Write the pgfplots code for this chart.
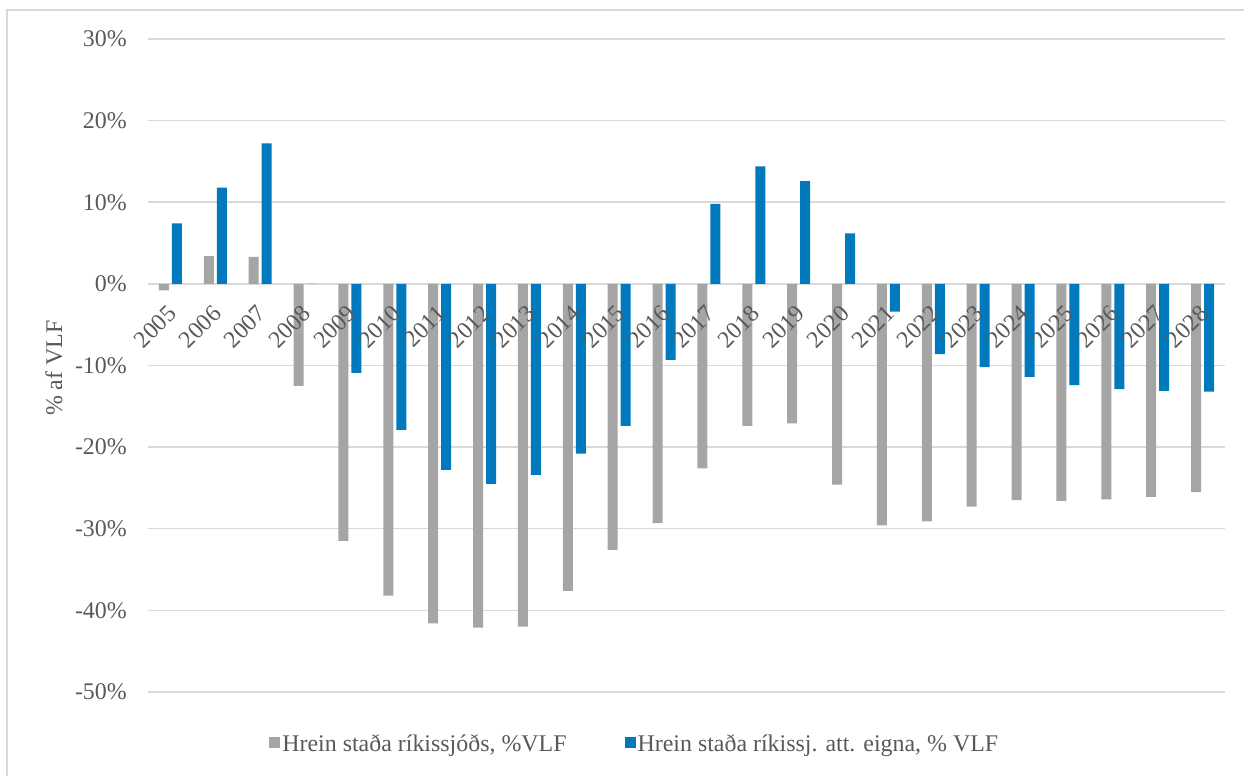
\documentclass[border=0pt]{standalone}
\usepackage{fontspec}
\setmainfont{Liberation Serif}
\usepackage{pgfplots}
\pgfplotsset{compat=1.18}
\definecolor{grayb}{RGB}{165,165,165}
\definecolor{blueb}{RGB}{0,122,188}
\definecolor{txt}{RGB}{89,89,89}
\definecolor{gridc}{RGB}{217,217,217}
\pgfplotsset{
  common/.style={
    at={(148bp,84bp)}, anchor=south west,
    scale only axis, width=1077bp, height=653bp,
    xmin=-0.5, xmax=23.5, ymin=-50, ymax=30,
    major tick length=0,
    axis line style={draw=none},
    tick label style={font=\fontsize{24}{28}\selectfont, text=txt},
  }
}
\begin{document}
\begin{tikzpicture}
\useasboundingbox (0,0) rectangle (1244bp,776bp);
\draw[gridc, line width=1.5bp] (7bp,-2bp) -- (7bp,766bp) -- (1250bp,766bp);
\begin{axis}[
  common,
  ybar=3bp, bar width=10bp,
  ytick={-50,-40,-30,-20,-10,0,10,20,30},
  yticklabels={-50\%,-40\%,-30\%,-20\%,-10\%,0\%,10\%,20\%,30\%},
  xtick={0,1,...,23},
  xticklabels={},
  ymajorgrids, grid style={gridc, line width=1.5bp},
  yticklabel style={anchor=east, inner sep=0pt, xshift=-21bp},
  ylabel={\% af VLF},
  ylabel style={at={(axis description cs:-0.0873,0.496)}, anchor=center, font=\fontsize{24}{28}\selectfont, text=txt},
  legend columns=2,
  legend style={at={(axis description cs:0.452,-0.0796)}, anchor=center, draw=none, fill=none,
    font=\fontsize{24}{28}\selectfont, text=txt,
    /tikz/every even column/.append style={column sep=56bp}},
  legend image code/.code={\fill[#1] (0bp,-4bp) rectangle (11bp,7bp);},
]
\addplot[fill=grayb, draw=none] coordinates {
(0,-0.8) (1,3.4) (2,3.3) (3,-12.5) (4,-31.5) (5,-38.2) (6,-41.6) (7,-42.1)
(8,-42.0) (9,-37.6) (10,-32.6) (11,-29.3) (12,-22.6) (13,-17.4) (14,-17.1) (15,-24.6)
(16,-29.6) (17,-29.1) (18,-27.3) (19,-26.5) (20,-26.6) (21,-26.4) (22,-26.1) (23,-25.5)};
\addlegendentry{Hrein staða ríkissjóðs, \%VLF}
\addplot[fill=blueb, draw=none] coordinates {
(0,7.4) (1,11.8) (2,17.2) (3,0) (4,-10.9) (5,-17.9) (6,-22.8) (7,-24.5)
(8,-23.4) (9,-20.8) (10,-17.4) (11,-9.3) (12,9.8) (13,14.4) (14,12.6) (15,6.2)
(16,-3.4) (17,-8.6) (18,-10.2) (19,-11.4) (20,-12.4) (21,-12.9) (22,-13.1) (23,-13.2)};
\addlegendentry{Hrein staða ríkissj. att. eigna, \% VLF}
\end{axis}
\begin{axis}[
  common,
  ytick=\empty,
  xtick={0,1,...,23},
  xticklabels={2005,2006,2007,2008,2009,2010,2011,2012,2013,2014,2015,2016,2017,2018,2019,2020,2021,2022,2023,2024,2025,2026,2027,2028},
  xticklabel style={xshift=-4bp, yshift=388bp, rotate=45, anchor=north east, inner sep=0pt},
]
\end{axis}
\end{tikzpicture}
\end{document}
